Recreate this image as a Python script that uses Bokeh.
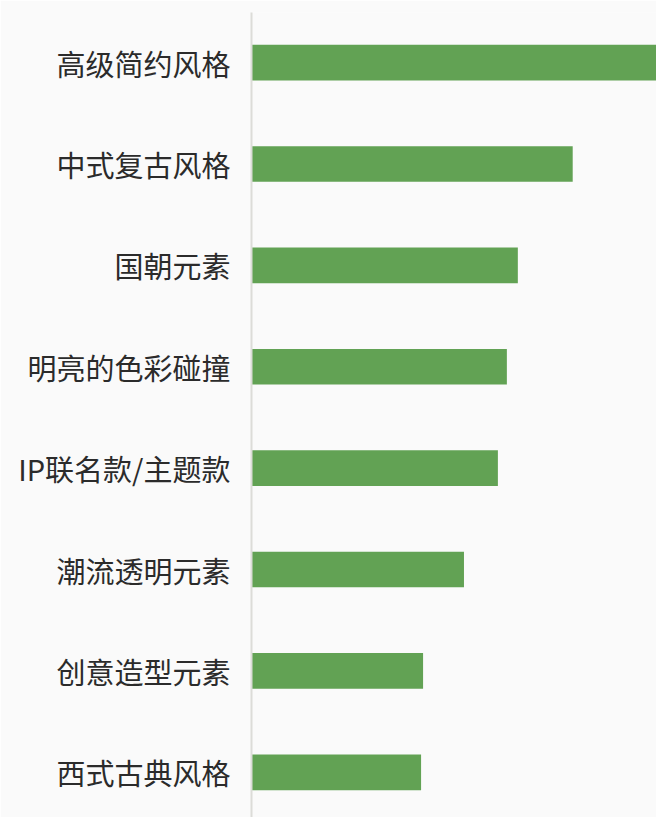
from bokeh.plotting import figure
from bokeh.models import Range1d, FixedTicker
from bokeh.embed import file_html
from bokeh.resources import INLINE

categories = ["高级简约风格", "中式复古风格", "国朝元素", "明亮的色彩碰撞",
              "IP联名款/主题款", "潮流透明元素", "创意造型元素", "西式古典风格"]
values = [40.6, 32.2, 26.7, 25.6, 24.7, 21.3, 17.2, 17.0]

n = len(categories)
positions = [n - i for i in range(n)]  # top category highest

BG = "#fafafa"
p = figure(width=656, height=817, output_backend="svg", toolbar_location=None,
           x_range=Range1d(0, max(values)), y_range=Range1d(0.554, n + 0.4946),
           min_border_left=251, min_border_top=12, min_border_right=0, min_border_bottom=0)
p.background_fill_color = BG
p.border_fill_color = BG
p.outline_line_color = None
p.xgrid.visible = False
p.ygrid.visible = False
p.xaxis.visible = False

p.hbar(y=positions, right=values, left=0, height=0.352,
       fill_color="#62a254", line_color=None)

ya = p.yaxis[0]
ya.ticker = FixedTicker(ticks=positions)
ya.major_label_overrides = {pos: cat for pos, cat in zip(positions, categories)}
ya.major_label_text_font = "Noto Sans CJK SC"
ya.major_label_text_font_size = "29px"
ya.major_label_text_color = "#2b2b2b"
ya.major_label_standoff = 21
ya.major_tick_line_color = None
ya.minor_tick_line_color = None
ya.major_tick_out = 0
ya.major_tick_in = 0
ya.axis_line_color = "#dcdcd8"
ya.axis_line_width = 2

open("out.html", "w").write(file_html(p, INLINE))
